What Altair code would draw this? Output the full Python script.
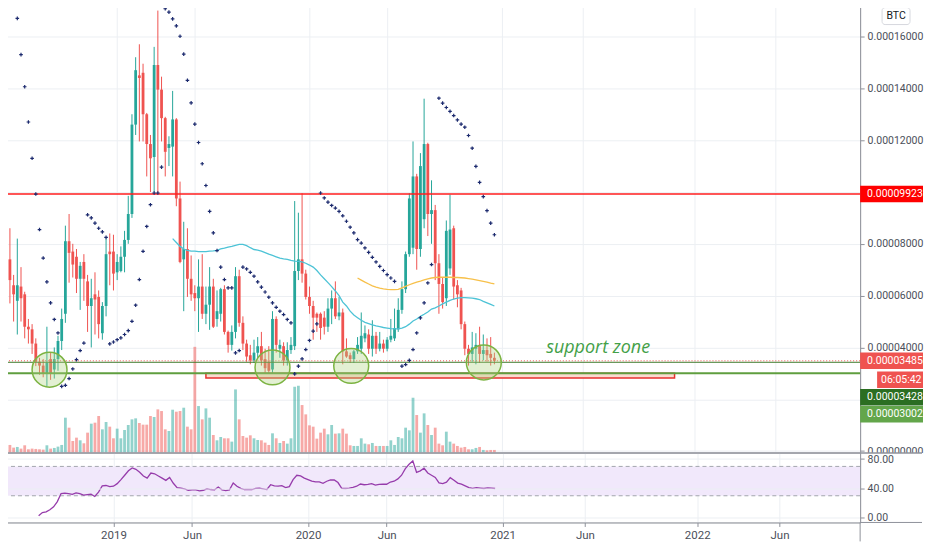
import altair as alt
import pandas as pd

# ---------------- data (prices in units of 0.00001 BTC) ----------------
UNIT = 1e-5
FIRST_WEEK = "2018-06-18"

opens = [7.4, 6.4, 5.8, 6.35, 6.05, 4.8, 4.7, 4.15, 3.45, 3.3,
         3.0, 3.55, 3.15, 3.55, 4.25, 5.3, 8.1, 7.7, 7.5, 6.65,
         7.3, 6.55, 5.6, 6.05, 5.95, 4.55, 5.6, 7.7, 7.7, 6.9,
         6.95, 7.5, 8.15, 9.15, 12.6, 14.5, 14.6, 13.0, 11.85, 11.35,
         14.9, 13.95, 12.85, 11.7, 11.75, 12.8, 9.75, 7.4, 7.8, 6.65,
         6.1, 5.9, 6.35, 5.3, 5.65, 6.35, 5.1, 5.3, 6.25, 4.6,
         4.1, 4.6, 6.75, 4.95, 4.15, 3.7, 3.5, 3.8, 4.05, 3.55,
         3.45, 3.15, 5.1, 3.95, 4.05, 3.5, 3.9, 4.05, 6.95, 7.4,
         6.85, 5.95, 5.6, 5.3, 5.3, 5.15, 4.8, 5.5, 5.9, 5.2,
         5.35, 3.85, 3.7, 3.55, 3.85, 3.95, 4.35, 4.5, 3.95, 4.45,
         3.95, 4.15, 3.95, 4.3, 4.35, 4.7, 5.45, 6.25, 7.6, 7.85,
         10.6, 7.8, 8.95, 11.85, 9.15, 9.3, 7.25, 6.45, 5.9, 7.05,
         8.6, 6.4, 6.2, 4.9, 3.95, 3.75, 3.95, 4.1, 3.75, 3.9,
         3.75, 3.6]
highs = [8.6, 6.8, 8.2, 7.1, 6.15, 5.1, 4.9, 4.35, 3.6, 3.55,
         4.8, 3.8, 4.0, 4.45, 5.5, 8.7, 9.15, 8.0, 7.8, 7.3,
         7.6, 6.8, 6.65, 6.9, 6.2, 5.75, 8.2, 8.4, 8.35, 7.6,
         7.9, 8.5, 9.85, 13.0, 15.2, 15.7, 14.95, 13.05, 12.2, 15.6,
         17.0, 14.45, 12.9, 12.15, 13.9, 12.85, 10.4, 8.85, 8.6, 7.55,
         6.4, 7.4, 7.6, 6.35, 7.1, 6.65, 6.2, 6.3, 6.4, 4.65,
         4.85, 7.1, 7.0, 5.2, 4.3, 4.1, 4.3, 4.4, 4.6, 3.95,
         4.05, 5.4, 5.2, 4.3, 4.2, 4.2, 4.4, 9.65, 9.2, 9.95,
         7.0, 6.35, 5.8, 5.35, 5.35, 5.4, 5.9, 6.2, 6.55, 5.95,
         5.5, 4.35, 3.8, 3.9, 4.4, 5.35, 4.85, 4.7, 5.05, 4.6,
         4.6, 4.3, 4.4, 5.1, 5.5, 5.9, 6.55, 7.7, 9.95, 11.95,
         10.7, 11.5, 13.6, 11.9, 10.45, 9.5, 7.6, 6.7, 8.9, 9.9,
         8.7, 6.6, 6.3, 5.0, 4.1, 4.6, 4.55, 4.8, 4.5, 4.35,
         4.4, 3.8]
lows = [5.7, 5.0, 4.5, 5.0, 4.35, 4.15, 3.75, 3.28, 2.95, 2.85,
        2.5, 2.75, 2.8, 3.1, 3.9, 4.95, 6.5, 6.7, 6.1, 5.45,
        5.8, 4.6, 4.0, 4.5, 4.35, 4.3, 5.2, 6.4, 6.2, 6.6,
        6.9, 6.9, 8.0, 9.0, 12.2, 11.95, 11.95, 10.6, 10.0, 10.0,
        9.95, 11.95, 10.6, 11.0, 10.6, 9.45, 7.25, 5.4, 5.95, 5.8,
        5.4, 4.6, 5.1, 4.9, 4.68, 4.75, 4.8, 5.0, 4.5, 3.8,
        3.88, 4.35, 4.8, 3.9, 3.45, 3.35, 3.4, 3.6, 3.3, 3.0,
        2.95, 2.95, 3.8, 3.6, 3.3, 3.3, 3.75, 3.9, 6.6, 6.5,
        5.85, 5.3, 4.3, 4.6, 4.3, 4.5, 4.6, 4.9, 5.1, 5.05,
        3.35, 3.6, 3.4, 3.4, 3.75, 3.75, 4.2, 3.75, 3.65, 3.75,
        3.85, 3.8, 3.85, 4.2, 4.25, 4.6, 5.3, 6.1, 7.5, 7.6,
        7.0, 7.5, 8.6, 8.3, 8.0, 6.6, 5.3, 5.5, 5.6, 6.8,
        5.85, 5.55, 4.7, 3.7, 3.3, 3.45, 3.35, 3.4, 3.5, 3.45,
        3.3, 3.35]
closes = [6.6, 6.05, 6.4, 5.9, 4.8, 4.7, 4.15, 3.45, 3.3, 3.0,
          3.4, 3.0, 3.55, 4.25, 5.1, 8.1, 7.65, 7.2, 6.65, 7.15,
          6.65, 5.6, 5.9, 5.85, 4.9, 5.6, 7.6, 7.6, 6.85, 7.3,
          7.5, 8.15, 9.15, 12.6, 14.7, 14.4, 13.0, 11.85, 11.3, 14.9,
          13.95, 12.85, 11.55, 11.85, 12.8, 9.75, 7.3, 7.8, 6.65, 6.05,
          5.9, 6.35, 5.3, 5.65, 6.35, 4.8, 5.4, 6.25, 4.6, 4.1,
          4.6, 6.75, 4.95, 4.15, 3.65, 3.5, 3.8, 4.05, 3.5, 3.2,
          3.1, 5.1, 4.1, 4.1, 3.5, 3.9, 4.1, 6.95, 7.4, 6.85,
          5.95, 5.6, 5.15, 5.15, 4.75, 4.8, 5.5, 5.9, 5.2, 5.35,
          3.85, 3.65, 3.55, 3.85, 4.1, 4.45, 4.55, 3.95, 4.45, 3.95,
          4.15, 3.95, 4.3, 4.45, 4.75, 5.45, 6.25, 7.6, 9.75, 10.6,
          7.8, 11.0, 11.85, 9.15, 9.3, 7.25, 6.45, 5.75, 8.5, 8.55,
          6.35, 6.05, 4.9, 3.95, 3.75, 4.0, 4.1, 3.75, 3.9, 3.7,
          3.6, 3.485]
volumes = [23, 15, 17, 12, 22, 10, 12, 11, 10, 9,
           22, 12, 14, 18, 23, 105, 75, 35, 45, 37,
           28, 60, 87, 90, 110, 70, 92, 78, 43, 72,
           43, 68, 83, 100, 103, 89, 84, 84, 110, 107,
           130, 125, 70, 65, 129, 123, 125, 135, 78, 70,
           318, 140, 100, 133, 105, 53, 37, 47, 43, 43,
           33, 190, 100, 50, 45, 52, 43, 38, 37, 30,
           23, 58, 43, 29, 35, 27, 43, 198, 201, 143,
           115, 82, 78, 42, 60, 72, 55, 83, 57, 58,
           72, 57, 22, 20, 20, 43, 27, 25, 29, 20,
           20, 20, 20, 37, 23, 47, 43, 75, 67, 165,
           113, 60, 118, 83, 53, 75, 27, 22, 63, 33,
           27, 20, 15, 17, 10, 10, 14, 17, 8, 7,
           8, 8]

RSI_FIRST = 9
rsi = [2.6, 7, 8, 11, 15, 22, 33, 33.5, 33, 32,
       34, 33, 31, 31.5, 32, 29, 35, 43.5, 44, 42.5,
       43, 46.5, 52, 58, 64, 68, 66, 62, 57, 54,
       61, 60, 57, 54, 51, 55, 47, 41, 40.5, 39.5,
       37.5, 38, 38, 36.7, 37.5, 39.5, 38.5, 38, 42, 38,
       37, 38, 47.5, 43, 40, 38.5, 38.5, 38.5, 40, 40.3,
       39.5, 38.5, 45, 43.5, 43, 43.9, 41.2, 42.5, 52, 57.9,
       57, 54, 52, 50, 49, 48.9, 47, 49.8, 51.5, 51.5,
       48, 40, 39.9, 40.5, 41.5, 43, 46, 45, 45.5, 46.5,
       44.4, 45.5, 45.7, 45.7, 48.7, 49.8, 53, 58, 67, 73,
       77.5, 62, 64, 67.5, 61, 58, 55, 47.5, 46.6, 48.5,
       54.7, 51, 47.2, 45.7, 43.5, 41.2, 40, 41.2, 40.5, 39.9,
       40.8, 40.3, 39.9]

MA_FAST_FIRST = 44
ma_fast = [8.2, 8.05, 7.9, 7.8, 7.75, 7.72, 7.72, 7.7, 7.7, 7.7,
           7.72, 7.73, 7.75, 7.8, 7.83, 7.87, 7.9, 7.94, 7.98, 7.98,
           7.93, 7.85, 7.78, 7.76, 7.72, 7.66, 7.6, 7.55, 7.5, 7.45,
           7.42, 7.4, 7.36, 7.33, 7.32, 7.3, 7.25, 7.18, 7.1, 6.97,
           6.8, 6.65, 6.5, 6.35, 6.18, 6.0, 5.75, 5.6, 5.4, 5.25,
           5.15, 5.05, 4.97, 4.92, 4.87, 4.83, 4.8, 4.77, 4.75, 4.73,
           4.72, 4.72, 4.75, 4.8, 4.9, 5.02, 5.1, 5.2, 5.28, 5.37,
           5.48, 5.53, 5.6, 5.68, 5.75, 5.82, 5.87, 5.9, 5.92, 5.92,
           5.91, 5.9, 5.88, 5.85, 5.78, 5.72, 5.66, 5.6]

MA_SLOW_FIRST = 94
ma_slow = [6.68, 6.6, 6.52, 6.45, 6.38, 6.33, 6.29, 6.26, 6.24, 6.23,
           6.23, 6.24, 6.3, 6.36, 6.42, 6.47, 6.52, 6.56, 6.61, 6.65,
           6.68, 6.7, 6.71, 6.71, 6.71, 6.71, 6.7, 6.7, 6.69, 6.68,
           6.66, 6.64, 6.61, 6.58, 6.55, 6.52, 6.48, 6.45]

sar = [None, None, 16.7, 15.3, 14.06, 12.7, 11.3, 9.92, 8.55, 7.45,
       6.53, 5.72, 5.08, 4.56, 2.5, 2.54, 2.8, 3.17, 3.53, 3.88,
       4.17, 9.12, 9.0, 8.8, 8.6, 8.46, 8.25, 4.14, 4.21, 4.3,
       4.37, 4.5, 4.65, 5.01, 5.63, 6.62, 7.71, 8.67, 9.51, 9.96,
       9.96, 10.96, 17.07, 16.94, 16.68, 16.41, 16.01, 15.32, 14.31, 13.44,
       12.62, 11.91, 11.09, 10.25, 9.25, 8.42, 7.74, 7.1, 6.62, 6.3,
       6.3, 3.79, 3.88, 7.1, 7.03, 6.9, 6.75, 6.53, 6.33, 6.14,
       5.94, 5.72, 5.55, 5.4, 5.27, 5.08, 4.95, 2.98, 3.28, 3.56,
       3.92, 4.27, 4.63, 4.91, 9.96, 9.77, 9.61, 9.48, 9.38, 9.25,
       9.08, 8.87, 8.64, 8.42, 8.16, 8.03, 7.84, 7.67, 7.48, 7.3,
       7.13, 6.97, 6.81, 6.68, 6.55, None, 3.28, 3.34, 3.5, 3.92,
       4.56, 5.14, 5.72, 6.49, 7.2, None, 13.62, 13.43, 13.26, 13.11,
       12.95, 12.78, 12.62, 12.5, 12.18, 11.69, 10.99, 10.37, 9.82, 9.28,
       8.8, 8.35]

level_red = 9.923
level_green = 3.002
level_green_dark = 3.428
last_price = 3.485
countdown = "06:05:42"

zone_start, zone_end = "2019-06-24", "2021-11-27"
zone_low, zone_high = 2.82, 3.0
circle_dates = ["2018-09-01", "2019-10-28", "2020-03-25", "2020-12-01"]
circle_prices = [3.14, 3.23, 3.29, 3.42]
note_text = "support zone"
note_date = "2021-03-29"
note_price = 3.97

tick_dates = ["2019-01-07", "2019-06-03", "2020-01-06", "2020-06-01",
              "2021-01-04", "2021-06-07", "2022-01-03", "2022-06-06"]
price_ticks = [0, 2, 4, 6, 8, 10, 12, 14, 16]
price_ticks_covered = [2, 10]   # their labels sit under the price tags
rsi_ticks = [0, 40, 80]
rsi_band = [30, 70]

# ---------------- styles / layout ----------------
W, H_PRICE, H_RSI = 860, 452, 70
RIGHT = 923
P_LO, P_HI = -0.058, 17.347
PX_PER_UNIT = H_PRICE / (P_HI - P_LO)
UP, DOWN = "#26a69a", "#ef5350"
GRID, AXIS, TXT = "#eceff3", "#8f929b", "#4b4f5a"
FONT = "Roboto"
LABEL_SIZE = 10.5


def px_time(px):
    return pd.Timestamp("2019-01-07") + pd.Timedelta(days=(px - 111.7) * 7 / 3.75)


def to_dt(ts):
    ts = pd.Timestamp(ts)
    return alt.DateTime(year=ts.year, month=ts.month, date=ts.day,
                        hours=ts.hour, minutes=ts.minute)


xs = alt.Scale(domain=[to_dt(px_time(0)), to_dt(px_time(W))])
ys = alt.Scale(domain=[P_LO * UNIT, P_HI * UNIT], nice=False, zero=False)
rs = alt.Scale(domain=[-6.4, 88.8], nice=False, zero=False)
dir_scale = alt.Scale(domain=["up", "down"], range=[UP, DOWN])
tick_vals = [to_dt(d) for d in tick_dates]

# ---------------- tables ----------------
weeks = pd.date_range(FIRST_WEEK, periods=len(opens), freq="7D")
candles = pd.DataFrame({
    "date": weeks,
    "open": [v * UNIT for v in opens],
    "high": [v * UNIT for v in highs],
    "low": [v * UNIT for v in lows],
    "close": [v * UNIT for v in closes],
    "volume": volumes,
    "dir": ["up" if c >= o else "down" for o, c in zip(opens, closes)],
})
rsi_df = pd.DataFrame({"date": weeks[RSI_FIRST:RSI_FIRST + len(rsi)], "rsi": rsi})
fast_df = pd.DataFrame({"date": weeks[MA_FAST_FIRST:MA_FAST_FIRST + len(ma_fast)],
                        "v": [v * UNIT for v in ma_fast]})
slow_df = pd.DataFrame({"date": weeks[MA_SLOW_FIRST:MA_SLOW_FIRST + len(ma_slow)],
                        "v": [v * UNIT for v in ma_slow]})
sar_df = pd.DataFrame({"date": weeks, "v": [None if s is None else s * UNIT for s in sar]}).dropna()
zone_df = pd.DataFrame({"date": [pd.Timestamp(zone_start)], "d2": [pd.Timestamp(zone_end)],
                        "v": [zone_low * UNIT], "v2": [zone_high * UNIT]})
circ_df = pd.DataFrame({"date": [pd.Timestamp(d) for d in circle_dates],
                        "v": [v * UNIT for v in circle_prices]})
note_df = pd.DataFrame({"date": [pd.Timestamp(note_date)], "v": [note_price * UNIT], "t": [note_text]})

# shared axes (identical objects in every layer so they merge)
X_grid = alt.X("date:T", scale=xs, axis=alt.Axis(
    values=tick_vals, labels=False, ticks=False, domain=False, grid=True,
    gridColor=GRID, title=None, minExtent=0, maxExtent=0))
hidden_cond = " || ".join(
    f"abs(datum.value - {v * UNIT!r}) < {0.1 * UNIT!r}" for v in price_ticks_covered)
price_axis = alt.Axis(orient="right", values=[v * UNIT for v in price_ticks],
                      labelExpr=f"({hidden_cond}) ? '' : format(datum.value, '.8f')",
                      title=None, grid=True, gridColor=GRID, domain=True, domainColor=AXIS,
                      tickColor=AXIS, tickSize=4, labelPadding=3,
                      labelFontSize=LABEL_SIZE, labelColor=TXT, labelFont=FONT)


def Yp(field):
    return alt.Y(field, scale=ys, axis=price_axis, title=None)


dir_color = alt.Color("dir:N", scale=dir_scale, legend=None)
base = alt.Chart(candles)

vol = base.mark_bar(size=2.8, opacity=0.5).encode(
    x=X_grid,
    y=alt.Y("volume:Q", scale=alt.Scale(domain=[0, H_PRICE * 3], nice=False), axis=None, stack=None),
    color=dir_color,
)

wick = base.mark_rule(strokeWidth=1).encode(x=X_grid, y=Yp("low:Q"), y2="high:Q", color=dir_color)
body = base.mark_bar(size=2.8).encode(x=X_grid, y=Yp("open:Q"), y2="close:Q", color=dir_color)

zone = alt.Chart(zone_df).mark_rect(fill="#fadcd0", stroke="#e8322e", strokeWidth=1.5).encode(
    x=X_grid, x2="d2:T", y=Yp("v:Q"), y2="v2:Q")

fast = alt.Chart(fast_df).mark_line(color="#4dc3d6", strokeWidth=1.3).encode(x=X_grid, y=Yp("v:Q"))
slow = alt.Chart(slow_df).mark_line(color="#f7c04a", strokeWidth=1.3).encode(x=X_grid, y=Yp("v:Q"))

sar_pts = alt.Chart(sar_df).mark_point(shape="M-1,0H1M0,-1V1", filled=False, size=13,
                                       strokeWidth=1.2, color="#1c2a6e", opacity=1).encode(
    x=X_grid, y=Yp("v:Q"))


def hline(value, color, width, dash=None):
    kw = dict(color=color, strokeWidth=width)
    if dash:
        kw["strokeDash"] = dash
    return alt.Chart(pd.DataFrame({"v": [value * UNIT]})).mark_rule(**kw).encode(y=Yp("v:Q"))


lines = [
    hline(level_red, "#ff1e1e", 1.5),
    hline(level_green, "#5f9e3f", 2),
    hline(level_green_dark, "#3d7a2a", 1),
    hline(last_price, "#ef5350", 1, [1, 2]),
]

circles = alt.Chart(circ_df).mark_point(shape="circle", size=1225, filled=True, fill="#aed581",
                                        fillOpacity=0.35, stroke="#7cb342", strokeWidth=1.5,
                                        opacity=1).encode(x=X_grid, y=Yp("v:Q"))

note = alt.Chart(note_df).mark_text(align="left", baseline="middle", fontStyle="italic",
                                    fontSize=18, color="#43a047", font="Open Sans").encode(
    x=X_grid, y=Yp("v:Q"), text="t:N")


def tag(value, text, bg, shift=0, x0=W, tx=W + 7):
    half = 8.2 / PX_PER_UNIT
    d = pd.DataFrame({"v": [value * UNIT], "lo": [(value - half) * UNIT],
                      "hi": [(value + half) * UNIT], "t": [text]})
    box = alt.Chart(d).mark_rect(color=bg, yOffset=shift, y2Offset=shift).encode(
        y=Yp("lo:Q"), y2="hi:Q", x=alt.value(x0), x2=alt.value(RIGHT))
    txt = alt.Chart(d).mark_text(color="white", align="left", baseline="middle", yOffset=shift,
                                 fontSize=LABEL_SIZE, font=FONT).encode(
        y=Yp("v:Q"), x=alt.value(tx), text="t:N")
    return [box, txt]


def fmt(v):
    return f"{v * UNIT:.8f}"


tags = (tag(level_red, fmt(level_red), "#ff0000")
        + tag(last_price, fmt(last_price), "#ef5350")
        + tag(last_price, countdown, "#ef5350", 19, W + 17, W + 21)
        + tag(level_green_dark, fmt(level_green_dark), "#2b6e22", 35)
        + tag(level_green, fmt(level_green), "#63a64b", 41))

one = pd.DataFrame({"t": ["BTC"]})
btc_box = alt.Chart(one).mark_rect(fill="white", stroke="#d6d8de", strokeWidth=1, cornerRadius=3).encode(
    x=alt.value(882), x2=alt.value(910), y=alt.value(6), y2=alt.value(23))
btc_txt = alt.Chart(one).mark_text(fontSize=10.5, color="#131722", font=FONT).encode(
    x=alt.value(896), y=alt.value(14.5), text="t:N")

price_layers = alt.layer(wick, zone, body, fast, slow, *lines, circles, sar_pts, note,
                         *tags, btc_box, btc_txt)
price_chart = alt.layer(vol, price_layers).resolve_scale(y="independent").properties(
    width=W, height=H_PRICE)

# ---------------- RSI pane ----------------
band_df = pd.DataFrame({"lo": [rsi_band[0]], "hi": [rsi_band[1]]})
rsi_axis = alt.Axis(orient="right", values=rsi_ticks, format=".2f", title=None, grid=True,
                    gridColor=GRID, domain=True, domainColor=AXIS,
                    tickColor=AXIS, tickSize=4, labelPadding=3, labelFontSize=LABEL_SIZE,
                    labelColor=TXT, labelFont=FONT, zindex=1)
x_axis = alt.Axis(values=tick_vals,
                  labelExpr="month(datum.value) == 0 ? timeFormat(datum.value, '%Y') : timeFormat(datum.value, '%b')",
                  title=None, grid=True, gridColor=GRID, domain=True, domainColor=AXIS,
                  tickColor=AXIS, tickSize=4, labelPadding=3.5,
                  labelFontSize=11.5, labelColor=TXT, labelFont=FONT)


def Yr(field):
    return alt.Y(field, scale=rs, axis=rsi_axis, title=None)


band = alt.Chart(band_df).mark_rect(color="#f1e8fb").encode(
    x=alt.value(0), x2=alt.value(W), y=Yr("lo:Q"), y2="hi:Q")
band_lines = alt.Chart(pd.DataFrame({"v": rsi_band})).mark_rule(
    color="#a3a6ae", strokeDash=[4, 3], strokeWidth=1).encode(y=Yr("v:Q"))
rsi_line = alt.Chart(rsi_df).mark_line(color="#963cab", strokeWidth=1.3).encode(
    x=alt.X("date:T", scale=xs, axis=x_axis, title=None), y=Yr("rsi:Q"))

one_row = pd.DataFrame({"k": [0]})
cover = alt.Chart(one_row).mark_rect(color="white").encode(
    x=alt.value(W + 1), x2=alt.value(RIGHT), y=alt.value(0.5), y2=alt.value(6.5))
sep = alt.Chart(one_row).mark_rule(color=AXIS, strokeWidth=1.5).encode(
    x=alt.value(0), x2=alt.value(RIGHT - 1), y=alt.value(0.5))
bottom_ext = alt.Chart(one_row).mark_rule(color=AXIS, strokeWidth=1).encode(
    x=alt.value(W), x2=alt.value(RIGHT - 1), y=alt.value(H_RSI))
vert_ext = alt.Chart(one_row).mark_rule(color=AXIS, strokeWidth=1).encode(
    x=alt.value(W), y=alt.value(H_RSI), y2=alt.value(H_RSI + 19))

rsi_chart = alt.layer(band, band_lines, rsi_line, cover, sep, bottom_ext, vert_ext).properties(
    width=W, height=H_RSI)

chart = alt.vconcat(price_chart, rsi_chart, spacing=0, bounds="flush").properties(
    padding={"left": -8, "top": -8, "right": 0, "bottom": 0}
).configure_view(stroke=None).configure(background="white", font=FONT)

chart.save("out.html", embed_options={"renderer": "svg", "actions": False})
